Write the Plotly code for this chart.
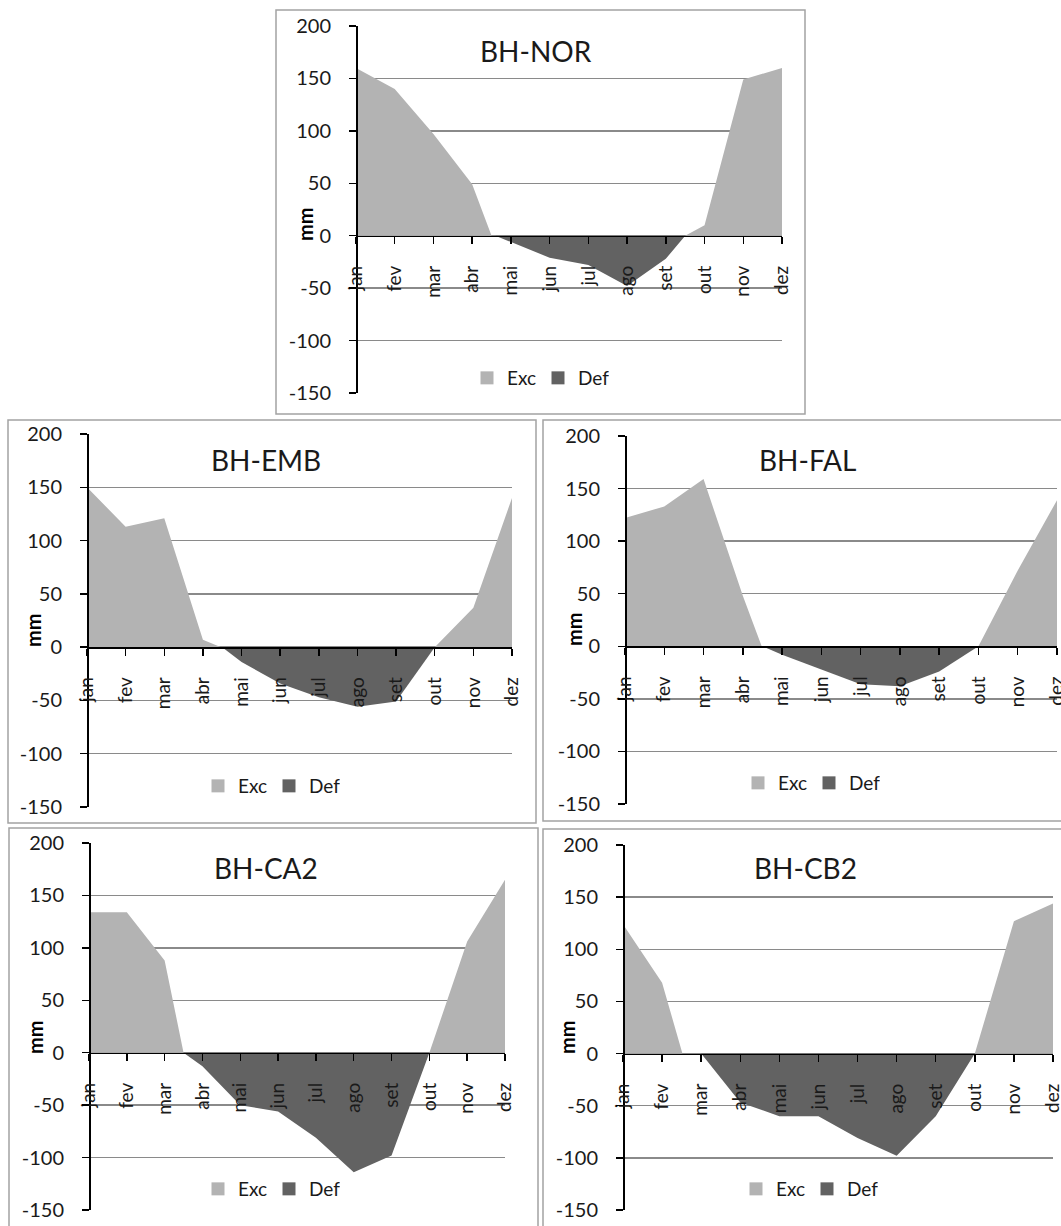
import plotly.graph_objects as go

# ---------------- data ----------------
months = ["jan", "fev", "mar", "abr", "mai", "jun", "jul", "ago", "set", "out", "nov", "dez"]
titles = ["BH-NOR", "BH-EMB", "BH-FAL", "BH-CA2", "BH-CB2"]
y_ticks = [-150, -100, -50, 0, 50, 100, 150, 200]
y_tick_text = ["-150", "-100", "-50", "0", "50", "100", "150", "200"]

# positions along the month axis (0 = jan ... 11 = dez) and values in mm
nor_exc_pos = [0, 1, 2, 3, 3.5, 8.5, 9, 10, 11]
nor_exc = [160, 140, 97, 49, 0, 0, 10, 149, 160]
nor_def_pos = [3.6, 4, 5, 6, 7, 8, 8.5]
nor_def = [0, -6, -21, -28, -48, -22, 0]

emb_exc_pos = [0, 1, 2, 3, 3.47, 9, 10, 11]
emb_exc = [150, 113, 121, 7, 0, 0, 37, 140]
emb_def_pos = [3.5, 4, 5, 6, 7, 8, 9]
emb_def = [0, -14, -34, -47, -56, -51, 0]

fal_exc_pos = [0, 1, 2, 3, 3.48, 9, 10, 11]
fal_exc = [122, 133, 159, 48, 0, 0, 72, 139]
fal_def_pos = [3.5, 4, 5, 6, 7, 8, 9]
fal_def = [0, -8, -22, -36, -38, -24, 0]

ca2_exc_pos = [0, 1, 2, 2.5, 9, 10, 11]
ca2_exc = [134, 134, 88, 0, 0, 106, 165]
ca2_def_pos = [2.5, 3, 4, 5, 6, 7, 8, 9]
ca2_def = [0, -13, -50, -56, -81, -114, -98, 0]

cb2_exc_pos = [0, 1, 1.52, 9, 10, 11]
cb2_exc = [124, 68, 0, 0, 127, 144]
cb2_def_pos = [2, 3, 4, 5, 6, 7, 8, 9]
cb2_def = [0, -47, -60, -60, -81, -98, -60, 0]

exc_series = [(nor_exc_pos, nor_exc), (emb_exc_pos, emb_exc), (fal_exc_pos, fal_exc),
              (ca2_exc_pos, ca2_exc), (cb2_exc_pos, cb2_exc)]
def_series = [(nor_def_pos, nor_def), (emb_def_pos, emb_def), (fal_def_pos, fal_def),
              (ca2_def_pos, ca2_def), (cb2_def_pos, cb2_def)]

# ---------------- layout geometry (pixels) ----------------
W, H = 1061, 1226
panels = [
    dict(frame=(276, 10, 805, 414), plot=(356, 26, 782, 393), title=(536, 51), mm=(305, 224), leg=(481, 378)),
    dict(frame=(8, 420, 536, 823), plot=(87, 434, 512, 807), title=(266, 460), mm=(33, 630), leg=(212, 786)),
    dict(frame=(543, 420, 1070, 821), plot=(625, 436, 1057, 804), title=(807, 460), mm=(574, 629), leg=(752, 783)),
    dict(frame=(9, 828, 538, 1232), plot=(89, 843, 505, 1210), title=(266, 868), mm=(35, 1037), leg=(212, 1189)),
    dict(frame=(543, 829, 1070, 1232), plot=(623, 845, 1053, 1210), title=(805, 868), mm=(567, 1037), leg=(750, 1189)),
]

EXC_COLOR = "#b3b3b3"
DEF_COLOR = "#626262"
GRID_COLOR = "#8a8a8a"
FONT = "Lato, Carlito, Calibri, sans-serif"
TXT = "#1a1a1a"

fig = go.Figure()
layout = dict(
    width=W, height=H, autosize=False,
    margin=dict(l=0, r=0, t=0, b=0, pad=0, autoexpand=False),
    paper_bgcolor="white", plot_bgcolor="rgba(0,0,0,0)",
    font=dict(family=FONT, color=TXT, size=19),
    shapes=[], annotations=[],
)

ymin, ymax = y_ticks[0], y_ticks[-1]

for i, p in enumerate(panels):
    n = "" if i == 0 else str(i + 1)
    xa, ya = "x" + n, "y" + n
    leg = "legend" + n
    x0, y0, x1, y1 = p["plot"]
    xdom = [x0 / W, x1 / W]
    ydom = [1 - y1 / H, 1 - y0 / H]
    zero_pos = ydom[0] + (0 - ymin) / (ymax - ymin) * (ydom[1] - ydom[0])

    ex_x, ex_y = exc_series[i]
    df_x, df_y = def_series[i]
    fig.add_trace(go.Scatter(x=ex_x, y=ex_y, mode="lines", fill="tozeroy",
                             fillcolor=EXC_COLOR, line=dict(width=0, color=EXC_COLOR),
                             xaxis=xa, yaxis=ya, showlegend=False, name="Exc"))
    fig.add_trace(go.Scatter(x=df_x, y=df_y, mode="lines", fill="tozeroy",
                             fillcolor=DEF_COLOR, line=dict(width=0, color=DEF_COLOR),
                             xaxis=xa, yaxis=ya, showlegend=False, name="Def"))
    # legend entries
    for nm, col in (("Exc", EXC_COLOR), ("Def", DEF_COLOR)):
        fig.add_trace(go.Scatter(x=[None], y=[None], mode="markers", name=nm,
                                 marker=dict(symbol="square", size=13, color=col),
                                 xaxis=xa, yaxis=ya, legend=leg, showlegend=True))

    layout["xaxis" + n] = dict(
        domain=xdom, range=[0, len(months) - 1], anchor="free", position=zero_pos,
        tickmode="array", tickvals=list(range(len(months))), ticktext=months,
        tickangle=-90, ticks="outside", ticklen=7, tickwidth=1.5, tickcolor="black",
        showline=True, linecolor="black", linewidth=1.5, showgrid=False, zeroline=False,
        tickfont=dict(family=FONT, size=19, color=TXT), ticklabelstandoff=14,
        ticklabeloverflow="allow", automargin=False, fixedrange=True,
    )
    layout["yaxis" + n] = dict(
        domain=ydom, range=[ymin, ymax], anchor="free", position=xdom[0],
        tickmode="array", tickvals=y_ticks, ticktext=y_tick_text,
        ticks="outside", ticklen=7, tickwidth=1.5, tickcolor="black",
        showline=True, linecolor="black", linewidth=1.5,
        showgrid=True, gridcolor=GRID_COLOR, gridwidth=1.5, zeroline=False,
        tickfont=dict(family=FONT, size=20, color=TXT), ticklabelstandoff=14,
        ticklabeloverflow="allow", automargin=False, fixedrange=True,
    )
    lx, ly = p["leg"]
    layout[leg] = dict(
        orientation="h", x=(lx - 14) / W, xanchor="left", y=1 - ly / H, yanchor="middle",
        bgcolor="rgba(0,0,0,0)", font=dict(family=FONT, size=19, color=TXT),
        entrywidth=26, itemclick=False, itemdoubleclick=False,
    )
    fx0, fy0, fx1, fy1 = p["frame"]
    layout["shapes"].append(dict(type="rect", xref="paper", yref="paper",
                                 x0=fx0 / W, x1=fx1 / W, y0=1 - fy1 / H, y1=1 - fy0 / H,
                                 line=dict(color="#a3a3a3", width=1.5), layer="below"))
    tx, ty = p["title"]
    layout["annotations"].append(dict(text=titles[i], xref="paper", yref="paper",
                                      x=tx / W, y=1 - ty / H, xanchor="center", yanchor="middle",
                                      showarrow=False, font=dict(family=FONT, size=28, color=TXT)))
    mx, my = p["mm"]
    layout["annotations"].append(dict(text="<b>mm</b>", xref="paper", yref="paper",
                                      x=mx / W, y=1 - my / H, xanchor="center", yanchor="middle",
                                      textangle=-90, showarrow=False,
                                      font=dict(family=FONT, size=20, color="black")))

fig.update_layout(**layout)
fig.write_html("out.html",
               config={"displayModeBar": False, "staticPlot": True},
               post_script="document.body.style.margin='0';document.body.style.overflow='hidden';")
